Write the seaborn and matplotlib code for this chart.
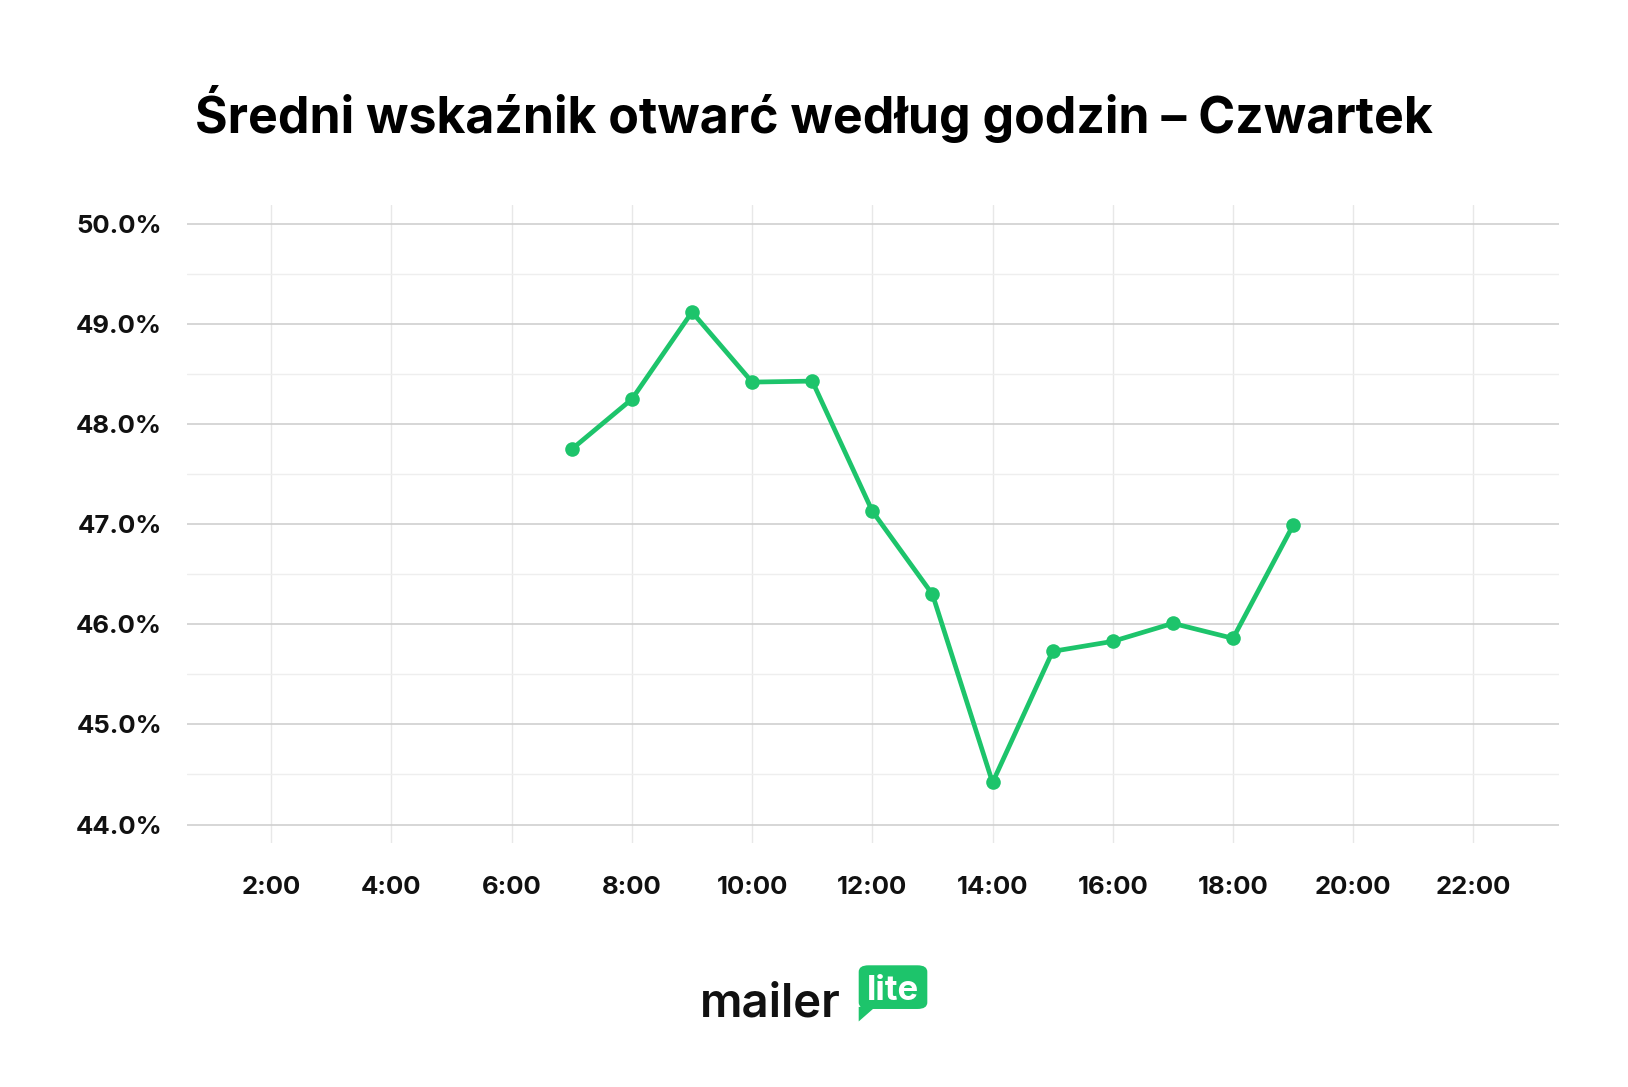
import matplotlib
matplotlib.use("Agg")
import matplotlib.pyplot as plt
import seaborn as sns
import pandas as pd
from matplotlib.patches import FancyBboxPatch, Polygon
from matplotlib.ticker import MultipleLocator, FuncFormatter

hours = [7, 8, 9, 10, 11, 12, 13, 14, 15, 16, 17, 18, 19]
rates = [47.75, 48.25, 49.12, 48.42, 48.43, 47.13, 46.30, 44.42, 45.73, 45.83, 46.01, 45.86, 46.99]
xticks = [2, 4, 6, 8, 10, 12, 14, 16, 18, 20, 22]
title = "Średni wskaźnik otwarć według godzin – Czwartek"

sns.set_style("white")
plt.rcParams['font.family'] = ['Inter', 'DejaVu Sans']
green = "#1dc46b"
W, H = 1566, 1045

fig = plt.figure(figsize=(16.28, 10.87), dpi=100)
ax = fig.add_axes([180/W, 1-810/H, 1320/W, 613/H])
df = pd.DataFrame({"h": hours, "r": rates})
sns.lineplot(data=df, x="h", y="r", ax=ax, color=green, linewidth=3.4, marker="o",
             markersize=10.5, markeredgewidth=0, zorder=3)
ax.set_xlim(0.6, 23.43)
ax.set_ylim(43.82, 50.19)
ax.set_xticks(xticks)
ax.set_xticklabels([f"{h}:00" for h in xticks])
ax.xaxis.set_minor_locator(MultipleLocator(1))
ax.yaxis.set_major_locator(MultipleLocator(1))
ax.yaxis.set_minor_locator(MultipleLocator(0.5))
ax.yaxis.set_major_formatter(FuncFormatter(lambda v, p: f"{v:.1f}%"))
ax.grid(which="major", axis="y", color="#cfcfcf", linewidth=1.2)
ax.grid(which="minor", axis="y", color="#eeeeee", linewidth=1)
ax.grid(which="major", axis="x", color="#e8e8e8", linewidth=1)
ax.grid(which="minor", axis="x", visible=False)
for s in ax.spines.values():
    s.set_visible(False)
ax.tick_params(which="both", length=0, labelcolor="#111111")
ax.tick_params(axis="x", pad=24, labelsize=18.5)
ax.tick_params(axis="y", pad=18, labelsize=18.5)
for lab in ax.get_xticklabels() + ax.get_yticklabels():
    lab.set_fontweight("bold")
ax.set_xlabel("")
ax.set_ylabel("")

fig.text(188/W, 1-110/H, title, fontsize=36, fontweight="bold", va="center", ha="left", color="#000000")

# logo
fig.text(673/W, 1-966/H, "mailer", fontsize=34, fontweight="semibold", va="center", ha="left", color="#111111")
box = FancyBboxPatch((826/W, 1-970/H), 66/W, 42/H,
                     boxstyle="round,pad=0,rounding_size=0.006", transform=fig.transFigure,
                     facecolor=green, edgecolor="none")
fig.patches.append(box)
tri = Polygon([(826/W, 1-968/H), (826/W, 1-982/H), (842/W, 1-968/H)],
              closed=True, transform=fig.transFigure, facecolor=green, edgecolor="none")
fig.patches.append(tri)
fig.text(859/W, 1-953/H, "lite", fontsize=25, fontweight="bold", color="white", va="center", ha="center")

fig.savefig("out.png", dpi=100, facecolor="white")
